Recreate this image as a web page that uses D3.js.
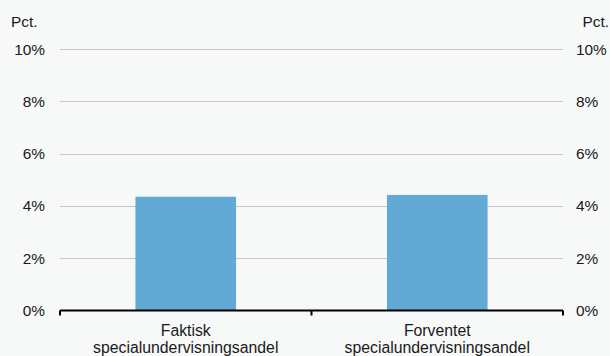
<!DOCTYPE html>
<html><head><meta charset="utf-8">
<script src="https://cdn.jsdelivr.net/npm/d3@7"></script>
<style>
html,body{margin:0;padding:0;background:#f7f8f8;}
svg{display:block;font-family:"Liberation Sans",Arial,sans-serif;}
</style></head>
<body>
<svg id="c" width="610" height="356"></svg>
<script>
const categories = [["Faktisk","specialundervisningsandel"],["Forventet","specialundervisningsandel"]];
const values = [4.35, 4.42];
const yTicks = [0,2,4,6,8,10];
const unitLabel = "Pct.";

const svg = d3.select("#c");
const m = {left:60, right:563, top:49, bottom:310.5};
const x = d3.scaleBand().domain(d3.range(categories.length)).range([m.left, m.right]).padding(0);
const y = d3.scaleLinear().domain([0,10]).range([m.bottom, m.top]);
const fs = 15.4;

// gridlines
svg.append("g").selectAll("line").data(yTicks.filter(d=>d>0)).join("line")
  .attr("x1", m.left).attr("x2", m.right)
  .attr("y1", d=>Math.round(y(d))+0.5).attr("y2", d=>Math.round(y(d))+0.5)
  .attr("stroke","#c6c6c6").attr("stroke-width",1);

// bars
const bw = x.bandwidth()*0.4;
svg.append("g").selectAll("rect").data(values).join("rect")
  .attr("x",(d,i)=>x(i)+x.bandwidth()/2-bw/2)
  .attr("width",bw)
  .attr("y",d=>y(d))
  .attr("height",d=>y(0)-y(d))
  .attr("fill","#63a9d6");

// x axis line and ticks
const ax = svg.append("g");
ax.append("line").attr("x1",m.left).attr("x2",m.right).attr("y1",y(0)).attr("y2",y(0))
  .attr("stroke","#000").attr("stroke-width",2);
const tickPos = d3.range(categories.length+1).map(i=> i<categories.length ? x(i) : m.right);
ax.selectAll("line.t").data(tickPos).join("line").attr("class","t")
  .attr("x1",d=>d).attr("x2",d=>d).attr("y1",y(0)).attr("y2",y(0)+5)
  .attr("stroke","#000").attr("stroke-width",2);

// category labels
const cl = svg.append("g").selectAll("text").data(categories).join("text")
  .attr("x",(d,i)=>x(i)+x.bandwidth()/2)
  .attr("y",336).attr("text-anchor","middle").attr("font-size",15.8).attr("fill","#1a1a1a");
cl.each(function(d){
  const t=d3.select(this);
  d.forEach((s,j)=>t.append("tspan").attr("x",t.attr("x")).attr("dy", j===0?0:16.5).text(s));
});

// y labels left & right
const fmt = d=>d+"%";
svg.append("g").selectAll("text").data(yTicks).join("text")
  .attr("x",45).attr("y",d=>y(d)+5.5).attr("text-anchor","end")
  .attr("font-size",fs).attr("fill","#1a1a1a").text(fmt);
svg.append("g").selectAll("text").data(yTicks).join("text")
  .attr("x",576).attr("y",d=>y(d)+5.5).attr("text-anchor","start")
  .attr("font-size",fs).attr("fill","#1a1a1a").text(fmt);

svg.append("text").attr("x",11).attr("y",26.5).attr("font-size",fs).attr("fill","#1a1a1a").text(unitLabel);
svg.append("text").attr("x",609).attr("y",26.5).attr("text-anchor","end").attr("font-size",fs).attr("fill","#1a1a1a").text(unitLabel);
</script>
</body></html>
